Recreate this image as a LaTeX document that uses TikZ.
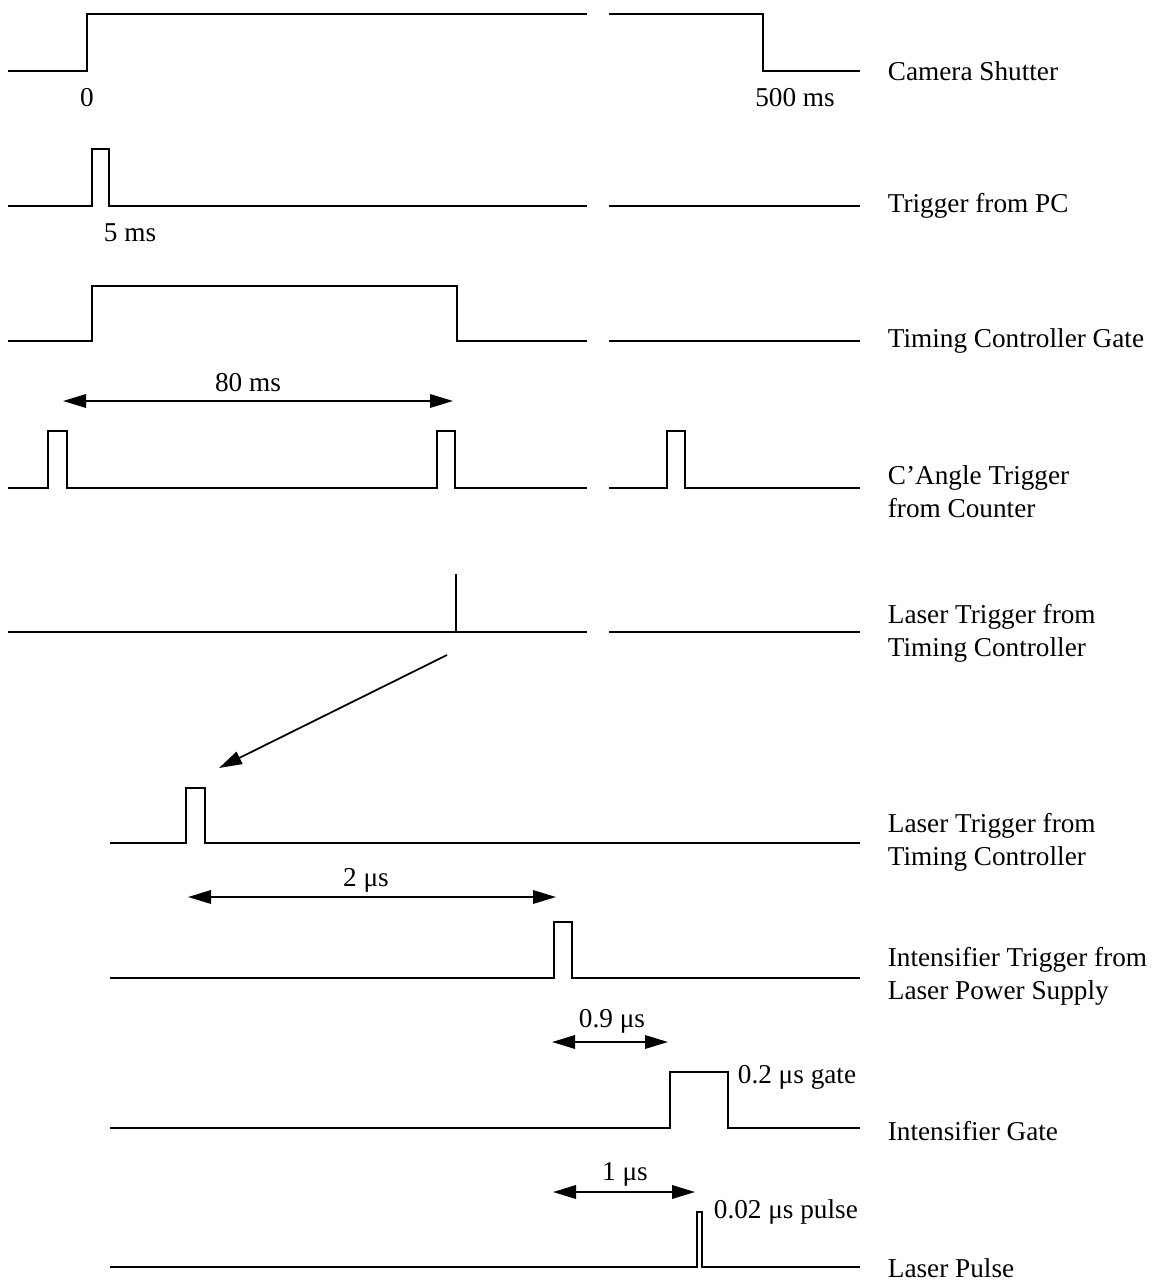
\documentclass[tikz,border=0pt]{standalone}
\usepackage{fontspec}
\setmainfont{Liberation Serif}
\usetikzlibrary{arrows.meta, positioning}

\begin{document}
\begin{tikzpicture}[x=0.2mm, y=-0.2mm, line width=1pt, line join=miter,
    font=\fontsize{15.5pt}{18.7pt}\selectfont,
    dim/.style={{Triangle[length=4.6mm,width=2.7mm]}-{Triangle[length=4.6mm,width=2.7mm]}},
    pointer/.style={-{Triangle[length=4.6mm,width=2.7mm]}},
    sigtext/.style={anchor=west, inner sep=0pt, align=left},
    marktext/.style={inner sep=0pt}]
    \useasboundingbox (0,0) rectangle (1157,1282);

    % Camera Shutter
    \draw (8,71) -- (87,71) -- (87,14) -- (587,14);
    \draw (609,14) -- (763,14) -- (763,71) -- (860,71);
    \node[sigtext] (camera) at (887,71) {Camera Shutter};
    \node[marktext] (tzero) at (87,98) {0};
    \node[marktext] (tend) at (795,98) {500 ms};

    % Trigger from PC
    \draw (8,206) -- (92,206) -- (92,149) -- (109,149) -- (109,206) -- (587,206);
    \node[sigtext] (pc) at (887,206) {Trigger from PC};
    \node[marktext] (tfive) at (130,233) {5 ms};

    % Timing Controller Gate
    \draw (8,341) -- (92,341) -- (92,286) -- (457,286) -- (457,341) -- (587,341);
    \node[sigtext] (gate) at (887,341) {Timing Controller Gate};

    % rechte Teilstücke (nach der Unterbrechung)
    \foreach \y in {206,341,632} {
        \draw (609,\y) -- (860,\y);
    }

    % 80 ms
    \coordinate (eightyL) at (63,401);
    \coordinate (eightyR) at (453,401);
    \draw[dim] (eightyL) -- (eightyR);
    \node[marktext] (eighty) at (248,383) {80 ms};

    % C'Angle Trigger from Counter
    \draw (8,488) -- (48,488) -- (48,431) -- (67,431) -- (67,488)
        -- (437,488) -- (437,431) -- (455,431) -- (455,488) -- (587,488);
    \draw (609,488) -- (667,488) -- (667,431) -- (685,431) -- (685,488) -- (860,488);
    \node[sigtext] (cangle) at (887,492) {C'Angle Trigger\\from Counter};

    % Laser Trigger from Timing Controller
    \draw (8,632) -- (587,632);
    \draw (456,632) -- (456,574);
    \node[sigtext] (lasertrig) at (887,633) {Laser Trigger from\\Timing Controller};

    % Vergrößerung
    \coordinate (zoomA) at (447,655);
    \coordinate (zoomB) at (219,768);
    \draw[pointer] (zoomA) -- (zoomB);

    % Laser Trigger from Timing Controller (gedehnt)
    \draw (110,843) -- (186,843) -- (186,788) -- (205,788) -- (205,843) -- (860,843);
    \node[sigtext] (lasertrigB) at (887,842) {Laser Trigger from\\Timing Controller};

    % 2 mus
    \coordinate (twoL) at (188,897);
    \coordinate (twoR) at (556,897);
    \draw[dim] (twoL) -- (twoR);
    \node[marktext] (two) at (366,880) {2 μs};

    % Intensifier Trigger from Laser Power Supply
    \draw (110,978) -- (554,978) -- (554,922) -- (572,922) -- (572,978) -- (860,978);
    \node[sigtext] (inttrig) at (887,976) {Intensifier Trigger from\\Laser Power Supply};

    % 0.9 mus
    \coordinate (nineL) at (552,1042);
    \coordinate (nineR) at (668,1042);
    \draw[dim] (nineL) -- (nineR);
    \node[marktext] (nine) at (612,1021) {0.9 μs};

    % Intensifier Gate
    \draw (110,1128) -- (670,1128) -- (670,1072) -- (728,1072) -- (728,1128) -- (860,1128);
    \node[sigtext] (intgate) at (887,1131) {Intensifier Gate};
    \node[sigtext] (gatewidth) at (737,1077) {0.2 μs gate};

    % 1 mus
    \coordinate (oneL) at (553,1192);
    \coordinate (oneR) at (695,1192);
    \draw[dim] (oneL) -- (oneR);
    \node[marktext] (one) at (625,1174) {1 μs};

    % Laser Pulse
    \draw (110,1267) -- (697,1267) -- (697,1212) -- (702,1212) -- (702,1267) -- (860,1267);
    \node[sigtext] (pulse) at (887,1268) {Laser Pulse};
    \node[sigtext] (pulsewidth) at (713,1212) {0.02 μs pulse};
\end{tikzpicture}
\end{document}
